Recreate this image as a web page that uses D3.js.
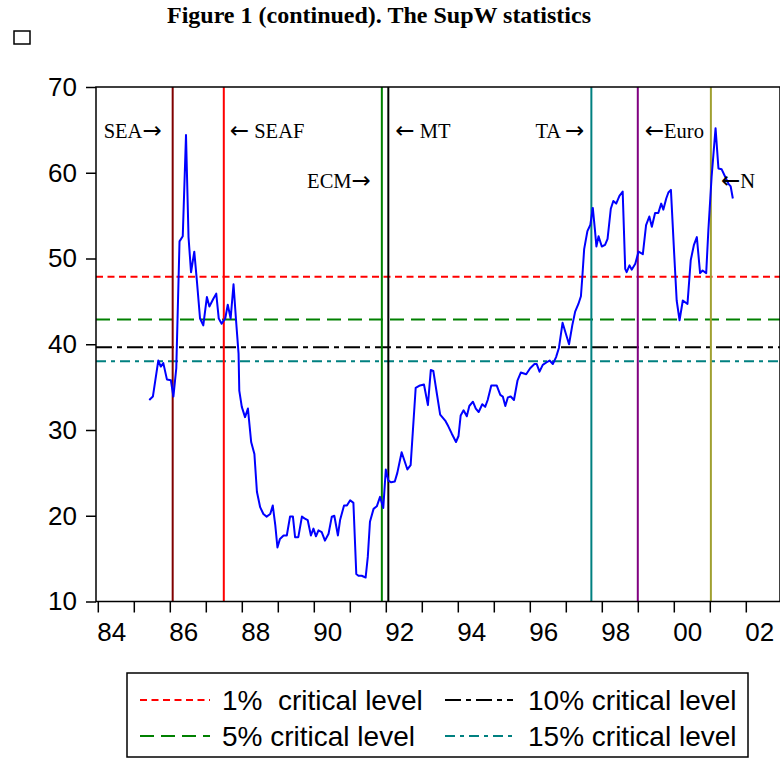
<!DOCTYPE html>
<html>
<head>
<meta charset="utf-8">
<script src="https://cdnjs.cloudflare.com/ajax/libs/d3/7.8.5/d3.min.js"></script>
<style>
  body { margin: 0; background: #fff; }
  svg { display: block; }
  .axis text { font-family: "Liberation Sans", Arial, sans-serif; font-size: 26px; fill: #000; }
  .axis line { stroke: #000; stroke-width: 1.5; }
  .eventText { font-family: "Liberation Serif", "Times New Roman", serif; font-size: 20.5px; fill: #000; white-space: pre; }
  .arrow { font-family: "DejaVu Sans", sans-serif; font-size: 23px; }
  .legendText { font-family: "Liberation Sans", Arial, sans-serif; font-size: 28px; fill: #000; white-space: pre; }
</style>
</head>
<body>
<script>
// SupW statistic, monthly-ish readings (decimal year, value)
const dates = [
  1985.43, 1985.53, 1985.68, 1985.75, 1985.82, 1985.92, 1986.03, 1986.10, 1986.18, 1986.27,
  1986.36, 1986.45, 1986.52, 1986.59, 1986.68, 1986.75, 1986.84, 1986.93, 1987.03, 1987.10,
  1987.21, 1987.29, 1987.36, 1987.44, 1987.54, 1987.61, 1987.69, 1987.77, 1987.84, 1987.91,
  1987.93, 1988.00, 1988.09, 1988.17, 1988.26, 1988.35, 1988.42, 1988.51, 1988.60, 1988.69,
  1988.79, 1988.86, 1988.93, 1988.99, 1989.06, 1989.16, 1989.25, 1989.34, 1989.42, 1989.48,
  1989.57, 1989.67, 1989.74, 1989.83, 1989.92, 1989.99, 1990.06, 1990.13, 1990.22, 1990.31,
  1990.41, 1990.50, 1990.57, 1990.67, 1990.73, 1990.84, 1990.92, 1991.01, 1991.10, 1991.18,
  1991.24, 1991.33, 1991.44, 1991.50, 1991.56, 1991.66, 1991.75, 1991.84, 1991.93, 1992.00,
  1992.07, 1992.15, 1992.25, 1992.32, 1992.44, 1992.60, 1992.69, 1992.83, 1992.95, 1993.06,
  1993.17, 1993.25, 1993.32, 1993.42, 1993.51, 1993.65, 1993.74, 1993.83, 1993.95, 1994.02,
  1994.08, 1994.16, 1994.25, 1994.32, 1994.42, 1994.50, 1994.58, 1994.68, 1994.76, 1994.83,
  1994.93, 1995.08, 1995.18, 1995.25, 1995.32, 1995.39, 1995.47, 1995.56, 1995.66, 1995.75,
  1995.90, 1996.01, 1996.13, 1996.19, 1996.27, 1996.36, 1996.47, 1996.55, 1996.64, 1996.73,
  1996.81, 1996.91, 1997.01, 1997.09, 1997.18, 1997.26, 1997.35, 1997.42, 1997.46, 1997.51,
  1997.60, 1997.68, 1997.75, 1997.81, 1997.85, 1997.91, 1998.00, 1998.09, 1998.16, 1998.25,
  1998.32, 1998.40, 1998.49, 1998.58, 1998.65, 1998.69, 1998.77, 1998.83, 1998.93, 1999.02,
  1999.14, 1999.23, 1999.32, 1999.39, 1999.48, 1999.57, 1999.65, 1999.71, 1999.79, 1999.85,
  1999.92, 2000.01, 2000.08, 2000.16, 2000.25, 2000.38, 2000.47, 2000.56, 2000.64, 2000.73,
  2000.80, 2000.90, 2000.96, 2001.05, 2001.16, 2001.24, 2001.33, 2001.43, 2001.52, 2001.58,
  2001.64
];
const supW = [
  33.5, 33.9, 38.1, 37.4, 37.8, 35.9, 35.8, 33.9, 37.2, 52.0,
  52.6, 64.4, 52.5, 48.4, 50.8, 47.5, 43.0, 42.2, 45.5, 44.4,
  45.3, 45.9, 43.0, 42.4, 43.0, 44.6, 43.0, 47.0, 42.8, 38.9,
  34.6, 32.7, 31.5, 32.5, 28.6, 27.2, 22.8, 21.0, 20.2, 19.9,
  20.2, 21.2, 18.9, 16.3, 17.3, 17.7, 17.7, 19.9, 19.9, 17.5,
  17.5, 19.9, 19.7, 19.5, 17.7, 18.5, 17.6, 18.3, 18.1, 17.1,
  17.9, 19.9, 20.0, 17.7, 19.5, 21.2, 21.2, 21.8, 21.5, 13.2,
  13.0, 13.0, 12.8, 15.2, 19.3, 20.8, 21.1, 22.2, 20.9, 25.4,
  24.1, 23.9, 24.0, 25.0, 27.4, 25.4, 25.9, 34.9, 35.2, 35.3,
  32.9, 37.0, 36.9, 34.2, 31.8, 31.1, 30.4, 29.6, 28.6, 29.3,
  31.7, 32.3, 31.6, 32.8, 33.3, 32.5, 32.1, 33.0, 32.7, 33.5,
  35.2, 35.2, 34.1, 33.9, 32.8, 33.8, 33.9, 33.5, 35.8, 36.7,
  36.5, 37.2, 37.7, 37.7, 36.8, 37.6, 37.9, 38.1, 37.7, 38.5,
  39.6, 42.5, 41.1, 40.0, 42.2, 43.8, 44.7, 45.6, 47.9, 51.1,
  53.2, 53.9, 55.9, 53.3, 51.4, 52.6, 51.4, 51.6, 52.3, 55.8,
  56.7, 56.4, 57.3, 57.8, 48.8, 48.4, 49.2, 48.7, 49.4, 50.8,
  50.5, 53.9, 54.9, 53.7, 55.3, 55.3, 56.4, 55.7, 57.0, 57.7,
  58.0, 50.6, 45.1, 42.8, 45.1, 44.7, 49.8, 51.6, 52.5, 48.3,
  48.6, 48.3, 53.3, 59.5, 65.2, 60.5, 60.4, 59.5, 58.7, 58.4,
  57.0
];

// critical levels
const critNames = ['1%  critical level', '5% critical level', '10% critical level', '15% critical level'];
const critValues = [47.86, 42.88, 39.65, 38.02];

// events
const eventNames = ['SEA\u2192', '\u2190 SEAF', 'ECM\u2192', '\u2190 MT', 'TA \u2192', '\u2190Euro', '\u2190N'];
const eventDates = [1986.08, 1987.50, 1991.89, 1992.07, 1997.71, 1999.00, 2001.03];

// axis ticks
const yTicks = [10, 20, 30, 40, 50, 60, 70];
const xTickYears = d3.range(1984, 2003);
const xTickLabels = ['84', '86', '88', '90', '92', '94', '96', '98', '00', '02'];

// styles
const critColors = ['#ff0000', '#008000', '#000000', '#008080'];
const critDash = ['7,4.5', '14,7', '16,5,5,5', '10,5,4,5'];
const eventColors = ['#800000', '#ff0000', '#008000', '#000000', '#008080', '#800080', '#a0a030'];
const eventSide = ['left', 'right', 'left', 'right', 'left', 'right', 'right'];
const eventOffset = [11, 6, 11, 7, 7, 7, 10];
const eventRow = [0, 0, 1, 0, 0, 0, 1];

const svgWidth = 780;
const svgHeight = 759;

const plot = { left: 96, right: 780, top: 87, bottom: 601.5 };

const svg = d3.select('body')
  .append('svg')
  .attr('width', svgWidth)
  .attr('height', svgHeight);

// title
svg.append('text')
  .attr('x', 379)
  .attr('y', 23)
  .attr('text-anchor', 'middle')
  .style('font-family', '"Liberation Serif", "Times New Roman", serif')
  .style('font-weight', 'bold')
  .style('font-size', '24px')
  .text('Figure 1 (continued). The SupW statistics');

svg.append('rect')
  .attr('x', 14).attr('y', 31)
  .attr('width', 16).attr('height', 13)
  .attr('fill', 'none')
  .attr('stroke', '#000')
  .attr('stroke-width', 1.5);

const xScale = d3.scaleLinear()
  .domain([1983.95, 2002.95])
  .range([plot.left, plot.right]);

const yScale = d3.scaleLinear()
  .domain([10, 70])
  .range([plot.bottom, plot.top]);

// y axis
const yAxis = d3.axisLeft(yScale)
  .tickValues(yTicks)
  .tickFormat(d3.format('d'))
  .tickSize(10)
  .tickSizeOuter(0)
  .tickPadding(9);

svg.append('g')
  .attr('class', 'axis')
  .attr('transform', `translate(${plot.left}, 0)`)
  .call(yAxis)
  .call(g => g.select('.domain').remove());

// x axis: yearly ticks, a label every second year sitting right of its tick
const xAxis = d3.axisBottom(xScale)
  .tickValues(xTickYears)
  .tickFormat((d, i) => (i % 2 === 0 ? xTickLabels[i / 2] : ''))
  .tickSize(11)
  .tickSizeOuter(0)
  .tickPadding(10);

svg.append('g')
  .attr('class', 'axis')
  .attr('transform', `translate(0, ${plot.bottom})`)
  .call(xAxis)
  .call(g => g.select('.domain').remove())
  .call(g => g.selectAll('text').attr('text-anchor', 'start').attr('x', -1));

// critical level lines
svg.selectAll('.crit')
  .data(critValues)
  .enter()
  .append('line')
  .attr('class', 'crit')
  .attr('x1', plot.left)
  .attr('x2', plot.right)
  .attr('y1', d => yScale(d))
  .attr('y2', d => yScale(d))
  .attr('stroke', (d, i) => critColors[i])
  .attr('stroke-width', 2)
  .attr('stroke-dasharray', (d, i) => critDash[i]);

// event lines
svg.selectAll('.event')
  .data(eventDates)
  .enter()
  .append('line')
  .attr('class', 'event')
  .attr('x1', d => xScale(d))
  .attr('x2', d => xScale(d))
  .attr('y1', plot.top)
  .attr('y2', plot.bottom)
  .attr('stroke', (d, i) => eventColors[i])
  .attr('stroke-width', 2);

// SupW series
const line = d3.line()
  .x((d, i) => xScale(dates[i]))
  .y(d => yScale(d));

svg.append('path')
  .datum(supW)
  .attr('d', line)
  .attr('fill', 'none')
  .attr('stroke', '#0000ff')
  .attr('stroke-width', 2)
  .attr('stroke-linejoin', 'round');

// event labels (arrows drawn in a font with a wide arrow glyph)
svg.selectAll('.eventText')
  .data(eventNames)
  .enter()
  .append('text')
  .attr('class', 'eventText')
  .attr('x', (d, i) => eventSide[i] === 'left'
    ? xScale(eventDates[i]) - eventOffset[i]
    : xScale(eventDates[i]) + eventOffset[i])
  .attr('y', (d, i) => plot.top + 50.5 + eventRow[i] * 50)
  .attr('text-anchor', (d, i) => eventSide[i] === 'left' ? 'end' : 'start')
  .each(function (d) {
    const t = d3.select(this);
    d.split(/([\u2190\u2192])/).filter(p => p.length).forEach(p => {
      t.append('tspan')
        .attr('class', /[\u2190\u2192]/.test(p) ? 'arrow' : null)
        .text(p);
    });
  });

// frame
svg.append('rect')
  .attr('x', plot.left)
  .attr('y', plot.top)
  .attr('width', plot.right - plot.left)
  .attr('height', plot.bottom - plot.top)
  .attr('fill', 'none')
  .attr('stroke', '#000')
  .attr('stroke-width', 1.5);

// legend
const legend = svg.append('g');
legend.append('rect')
  .attr('x', 127).attr('y', 673)
  .attr('width', 621).attr('height', 84)
  .attr('fill', '#fff')
  .attr('stroke', '#000')
  .attr('stroke-width', 1.5);

// order in the box: 1% | 10% on top, 5% | 15% below
const legendCol = [0, 0, 1, 1];
const legendRow = [0, 1, 0, 1];
const colX = [140, 445];
const colW = [70, 68];
const colTextX = [222, 528];
const rowY = [700, 736];

critNames.forEach((name, i) => {
  const cx = colX[legendCol[i]];
  const cy = rowY[legendRow[i]];
  legend.append('line')
    .attr('x1', cx).attr('x2', cx + colW[legendCol[i]])
    .attr('y1', cy).attr('y2', cy)
    .attr('stroke', critColors[i])
    .attr('stroke-width', 2)
    .attr('stroke-dasharray', critDash[i]);
  legend.append('text')
    .attr('class', 'legendText')
    .attr('x', colTextX[legendCol[i]])
    .attr('y', cy + 10)
    .text(name);
});
</script>
</body>
</html>
